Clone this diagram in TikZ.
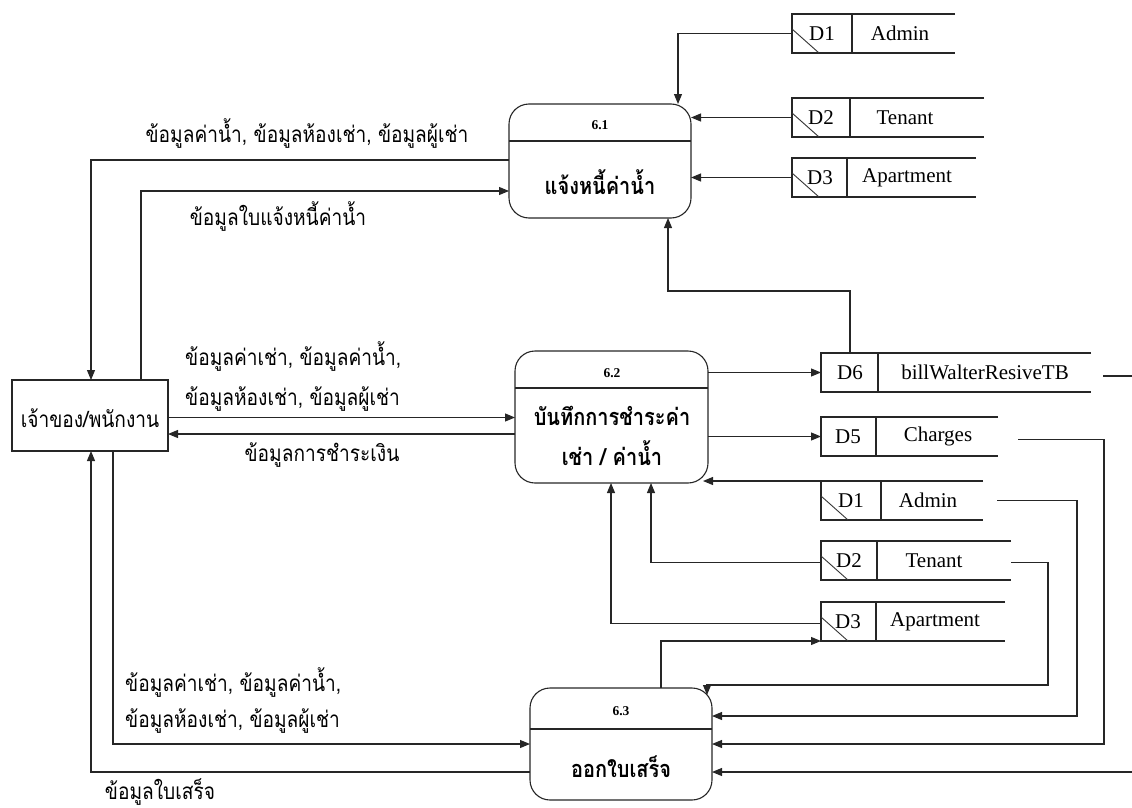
\documentclass[tikz,border=0pt]{standalone}
\usepackage{fontspec}
\setmainfont{Liberation Serif}
\newfontfamily\thai[Script=Thai,FakeStretch=0.85]{Loma}
\usetikzlibrary{arrows.meta,calc}
\tikzset{
  line/.style={draw=black!85, line width=1.1pt},
  thinline/.style={draw=black!80, line width=0.9pt},
  arr/.style={line, -{Triangle[length=10pt,width=8pt]}},
  proc/.style={line, rounded corners=20pt, anchor=north west, inner sep=0pt, outer sep=0pt},
  ent/.style={line, anchor=north west, inner sep=0pt, outer sep=0pt},
  store/.style={anchor=north west, minimum height=39pt, inner sep=0pt, outer sep=0pt},
  stxt/.style={font=\fontsize{21}{24}\selectfont, inner sep=0pt},
  ptitle/.style={font=\bfseries\fontsize{13.5}{15}\selectfont, inner sep=0pt},
  ptext/.style={font=\thai\bfseries\fontsize{23.5}{40}\selectfont, inner sep=0pt, align=center},
  lbl/.style={font=\thai\fontsize{22.5}{26}\selectfont, inner sep=0pt},
}
\newcommand\dstore[5]{%
  \node[store, minimum width=#4pt] (#1) at (#2,#3) {};
  \draw[line] (#1.north east) -- (#1.north west) -- (#1.south west) -- (#1.south east);
  \draw[line] ([xshift=#5pt]#1.north west) -- ([xshift=#5pt]#1.south west);
}
\newcommand\dslash[1]{\draw[thinline] ([yshift=-15pt]#1.north west) -- ([xshift=27pt]#1.south west);}
\begin{document}
\begin{tikzpicture}[x=1pt,y=-1pt]
\useasboundingbox (0,0) rectangle (1132,808);

% processes
\node[proc, minimum width=182pt, minimum height=114pt] (p61) at (509,104) {};
\draw[line] ([yshift=-37pt]p61.north west) -- ([yshift=-37pt]p61.north east);
\node[ptitle] (p61t) at (600,125) {6.1};
\node[ptext] (p61l) at (600,182) {แจ้งหนี้ค่าน้ำ};

\node[proc, minimum width=193pt, minimum height=132pt] (p62) at (515,351) {};
\draw[line] ([yshift=-37pt]p62.north west) -- ([yshift=-37pt]p62.north east);
\node[ptitle] (p62t) at (612,373) {6.2};
\node[ptext] (p62l) at (612,436) {บันทึกการชำระค่า\\เช่า / ค่าน้ำ};

\node[proc, minimum width=182pt, minimum height=112pt] (p63) at (530,688) {};
\draw[line] ([yshift=-41pt]p63.north west) -- ([yshift=-41pt]p63.north east);
\node[ptitle] (p63t) at (621,711) {6.3};
\node[ptext] (p63l) at (621,767) {ออกใบเสร็จ};

% external entity
\node[ent, minimum width=156pt, minimum height=71pt] (ent) at (12,380) {};
\node[lbl] (entl) at (90,418) {เจ้าของ/พนักงาน};

% data stores top
\dstore{t1}{792}{14}{163}{60}\dslash{t1}
\node[stxt] (t1i) at ($(t1.west)+(30,0)$) {D1};
\node[stxt] (t1n) at ($(t1.west)+(108,0)$) {Admin};
\dstore{t2}{792}{98}{192}{58}\dslash{t2}
\node[stxt] (t2i) at ($(t2.west)+(29,0)$) {D2};
\node[stxt] (t2n) at ($(t2.west)+(113,0)$) {Tenant};
\dstore{t3}{792}{158}{184}{55}\dslash{t3}
\node[stxt] (t3i) at ($(t3.west)+(28,0)$) {D3};
\node[stxt] (t3n) at ($(t3.west)+(115,0)$) {Apartment};

% data stores middle
\dstore{m6}{821}{353}{270}{57}
\node[stxt] (m6i) at ($(m6.west)+(29,0)$) {D6};
\node[stxt] (m6n) at ($(m6.west)+(164,0)$) {billWalterResiveTB};
\dstore{m5}{821}{417}{177}{55}
\node[stxt] (m5i) at ($(m5.west)+(27,0)$) {D5};
\node[stxt] (m5n) at ($(m5.west)+(117,0)$) {Charges};
\dstore{m1}{821}{481}{162}{60}\dslash{m1}
\node[stxt] (m1i) at ($(m1.west)+(30,0)$) {D1};
\node[stxt] (m1n) at ($(m1.west)+(107,0)$) {Admin};
\dstore{m2}{821}{541}{190}{56}\dslash{m2}
\node[stxt] (m2i) at ($(m2.west)+(28,0)$) {D2};
\node[stxt] (m2n) at ($(m2.west)+(113,0)$) {Tenant};
\dstore{m3}{821}{602}{184}{55}\dslash{m3}
\node[stxt] (m3i) at ($(m3.west)+(27,0)$) {D3};
\node[stxt] (m3n) at ($(m3.west)+(114,0)$) {Apartment};

% free ends
\coordinate (d6a) at (1103,376);
\coordinate (d6b) at (1132,376);
\coordinate (rin) at (1132,772);
\coordinate (bend1) at (668,291);

% flows into 6.1
\draw[arr] (t1.west) -| ([xshift=-13pt]p61.north east);
\draw[arr] (t2.west) -- (t2.west -| p61.east);
\draw[arr] (t3.west) -- (t3.west -| p61.east);
\draw[arr] ([xshift=29pt]m6.north west) |- (bend1) -- (bend1 |- p61.south);

% 6.2 outputs / inputs
\draw[arr] (m6.west -| p62.east) -- (m6.west);
\draw[arr] (m5.west -| p62.east) -- (m5.west);
\coordinate (m1a) at ([xshift=-118pt]m1.north west);
\draw[arr] (m1.north west) -- (m1a);
\draw[arr] ([yshift=-2pt]m2.west) -| ([xshift=-57pt]p62.south east);
\draw[arr] ([yshift=-2pt]m3.west) -| ([xshift=96pt]p62.south west);
\draw[arr] ([xshift=131pt]p63.north west) |- (m3.south west);

% into 6.3 from right
\draw[arr] ([yshift=-2pt]m2.east) -- ++(37,0) |- ([xshift=-5pt,yshift=3pt]p63.north east) -- ([xshift=-5pt,yshift=-7pt]p63.north east);
\draw[arr] ([xshift=14pt]m1.east) -- ++(80,0) |- ([yshift=28pt]p63.east);
\draw[arr] ([xshift=20pt,yshift=-3pt]m5.east) -- ++(86,0) |- (p63.east);
\draw[arr] (rin) -- (rin -| p63.east);
\draw[line] (d6a) -- (d6b);

% left side
\draw[arr] ([yshift=-56pt]p61.north west) -| ([xshift=79pt]ent.north west);
\draw[arr] ([xshift=129pt]ent.north west) |- ([yshift=-87pt]p61.north west);
\coordinate (e1) at ([yshift=-2pt]ent.east);
\draw[arr] (e1) -- (e1 -| p62.west);
\coordinate (e2) at ([yshift=-17pt]p62.west);
\draw[arr] (e2) -- (e2 -| ent.east);
\draw[arr] ([xshift=101pt]ent.south west) |- (p63.west);
\draw[arr] ([yshift=-28pt]p63.west) -| ([xshift=79pt]ent.south west);

% labels
\node[lbl] (l1) at (307,134) {ข้อมูลค่าน้ำ, ข้อมูลห้องเช่า, ข้อมูลผู้เช่า};
\node[lbl] (l2) at (278,217) {ข้อมูลใบแจ้งหนี้ค่าน้ำ};
\node[lbl, anchor=west, align=left, font=\thai\fontsize{22.5}{40}\selectfont] (l3) at (185,377) {ข้อมูลค่าเช่า, ข้อมูลค่าน้ำ,\\ข้อมูลห้องเช่า, ข้อมูลผู้เช่า};
\node[lbl] (l4) at (322,455) {ข้อมูลการชำระเงิน};
\node[lbl, anchor=west, align=left, font=\thai\fontsize{22.5}{36}\selectfont] (l5) at (125,701) {ข้อมูลค่าเช่า, ข้อมูลค่าน้ำ,\\ข้อมูลห้องเช่า, ข้อมูลผู้เช่า};
\node[lbl, anchor=south] (l6) at (160,806) {ข้อมูลใบเสร็จ};
\end{tikzpicture}
\end{document}
